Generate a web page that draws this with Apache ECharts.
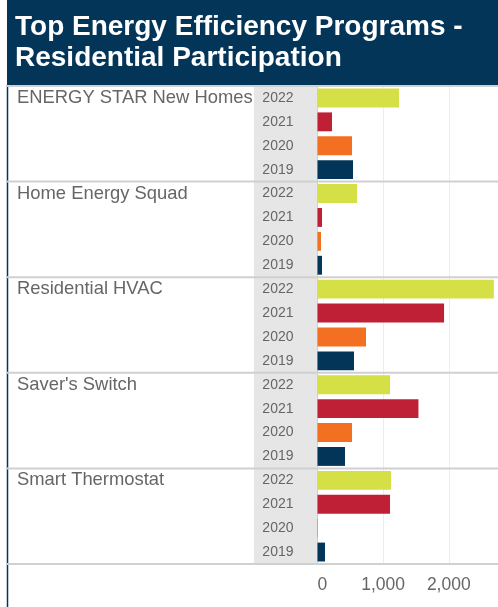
<!DOCTYPE html>
<html lang="en">
<head>
<meta charset="utf-8">
<title>Top Energy Efficiency Programs - Residential Participation</title>
<script src="https://cdn.jsdelivr.net/npm/echarts@6/dist/echarts.min.js"></script>
<style>
    html, body { margin: 0; padding: 0; background: #fff; }
    #main { width: 498px; height: 607px; }
</style>
</head>
<body>
<div id="main"></div>
<script>
// data
var programs = ['ENERGY STAR New Homes', 'Home Energy Squad', 'Residential HVAC', "Saver's Switch", 'Smart Thermostat'];
var years = ['2022', '2021', '2020', '2019'];
var p2022 = [1242, 602, 2686, 1105, 1120];
var p2021 = [221, 69, 1928, 1538, 1105];
var p2020 = [526, 53, 739, 526, 8];
var p2019 = [541, 69, 556, 419, 114];
var xMax = 2750;
var xStep = 1000;

var byYear = [p2022, p2021, p2020, p2019];
var yearColors = ['#d5df46', '#c02036', '#f37022', '#033559'];
var font = "'Liberation Sans', Arial, sans-serif";

// layout
var gridLeft = 317.5, gridTop = 86, gridH = 478;
var groupH = gridH / programs.length;

var rows = [], vals = [];
programs.forEach(function (p, i) {
    years.forEach(function (y, j) {
        rows.push(p + '|' + y);
        vals.push({ value: byYear[j][i], itemStyle: { color: yearColors[j] } });
    });
});

var graphics = [
    { type: 'rect', shape: { x: 7, y: 0, width: 491, height: 85 }, style: { fill: '#033559' }, z: 0 },
    { type: 'line', shape: { x1: 7.5, y1: 85, x2: 7.5, y2: 607 }, style: { stroke: '#033559', lineWidth: 1.5 }, z: 0 },
    { type: 'rect', shape: { x: 254, y: gridTop, width: gridLeft - 254, height: gridH }, style: { fill: '#e6e6e6' }, z: 0 }
];
for (var k = 0; k <= programs.length; k++) {
    var yy = gridTop + k * groupH;
    graphics.push({ type: 'line', shape: { x1: 7, y1: yy, x2: 498, y2: yy }, style: { stroke: '#d0d0d0', lineWidth: 2 }, z: 5 });
}

var myChart = echarts.init(document.getElementById('main'));
myChart.setOption({
    animation: false,
    title: {
        text: 'Top Energy Efficiency Programs -\nResidential Participation',
        left: 15,
        top: 12,
        padding: 0,
        textStyle: { color: '#fff', fontSize: 28, fontWeight: 'bold', lineHeight: 31, fontFamily: font }
    },
    graphic: graphics,
    grid: { left: gridLeft, right: 0, top: gridTop, height: gridH },
    xAxis: {
        type: 'value',
        min: 0,
        max: xMax,
        interval: xStep,
        axisLine: { show: false },
        axisTick: { show: false },
        splitLine: { lineStyle: { color: '#ececec' } },
        axisLabel: {
            color: '#666', fontSize: 17.5, fontFamily: font, margin: 12, showMaxLabel: false,
            alignMinLabel: 'left',
            formatter: function (v) { return v.toLocaleString('en-US'); }
        }
    },
    yAxis: [{
        type: 'category',
        data: rows,
        inverse: true,
        axisLine: { show: true, lineStyle: { color: '#cfcfcf' } },
        axisTick: { show: false },
        axisLabel: {
            interval: 0, color: '#666', fontSize: 14, fontFamily: font, margin: 24,
            formatter: function (v) { return v.split('|')[1]; }
        }
    }, {
        type: 'category',
        data: rows,
        inverse: true,
        position: 'left',
        axisLine: { show: false },
        axisTick: { show: false },
        axisLabel: {
            interval: 0, color: '#666', fontSize: 18.4, fontFamily: font, margin: gridLeft - 17, align: 'left',
            formatter: function (v) {
                var s = v.split('|');
                return s[1] === years[0] ? s[0] : '';
            }
        }
    }],
    series: [{
        type: 'bar',
        yAxisIndex: 0,
        barCategoryGap: '21%',
        data: vals
    }]
});
</script>
</body>
</html>
